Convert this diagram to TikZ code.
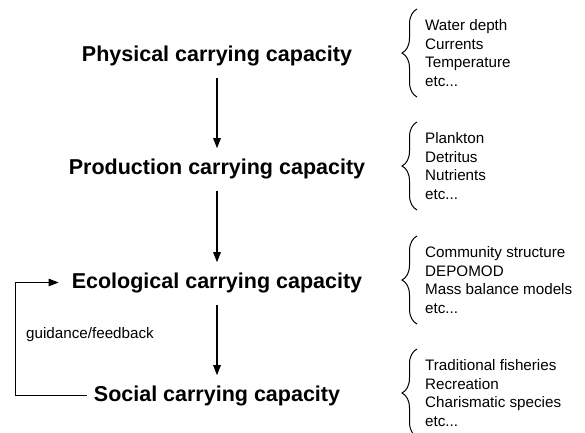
\documentclass[tikz,border=0pt]{standalone}
\usepackage{fontspec}
\setmainfont{Liberation Sans}
\usetikzlibrary{arrows.meta,decorations.pathreplacing}

\begin{document}
\begin{tikzpicture}
[
 x=1pt, y=1pt,
  >={Stealth[length=10pt,width=7.5pt,inset=0pt]},
  title/.style = {anchor=base, inner sep=0pt, font=\fontsize{21.5}{24}\selectfont\bfseries},
  items/.style = {anchor=west, inner sep=0pt, align=left, font=\fontsize{15.2}{18.7}\selectfont},
  flow/.style = {->, line width=1.2pt, shorten <=12pt, shorten >=10pt},
  curly/.style = {decorate, decoration={brace, amplitude=15pt}, line width=1pt},
]
\useasboundingbox (0,0) rectangle (585,-432);

% the four capacities
\node (phys) at (217,-61) [title] {Physical carrying capacity};
\node (prod) at (217,-174) [title] {Production carrying capacity};
\node (eco) at (217,-288) [title] {Ecological carrying capacity};
\node (soc) at (217,-401) [title] {Social carrying capacity};

\draw[flow] (phys) -- (prod);
\draw[flow] (prod) -- (eco);
\draw[flow] (eco) -- (soc);

% feedback loop
\node (guide) at (26,-335) [anchor=west, inner sep=0pt, font=\fontsize{15.2}{18}\selectfont] {guidance/feedback};
\draw[->, line width=1pt, shorten <=7pt, shorten >=13pt] (soc.west) -- ++(-78,0) |- (eco.west);

% lists
\node (physlist) at (425,-53) [items] {Water depth\\Currents\\Temperature\\etc...};
\node (prodlist) at (425,-166) [items] {Plankton\\Detritus\\Nutrients\\etc...};
\node (ecolist) at (425,-280) [items] {Community structure\\DEPOMOD\\Mass balance models\\etc...};
\node (soclist) at (425,-393) [items] {Traditional fisheries\\Recreation\\Charismatic species\\etc...};

\draw[curly] (417,-97) -- (417,-9);
\draw[curly] (417,-210) -- (417,-122);
\draw[curly] (417,-324) -- (417,-236);
\draw[curly] (417,-437) -- (417,-349);

\end{tikzpicture}
\end{document}
